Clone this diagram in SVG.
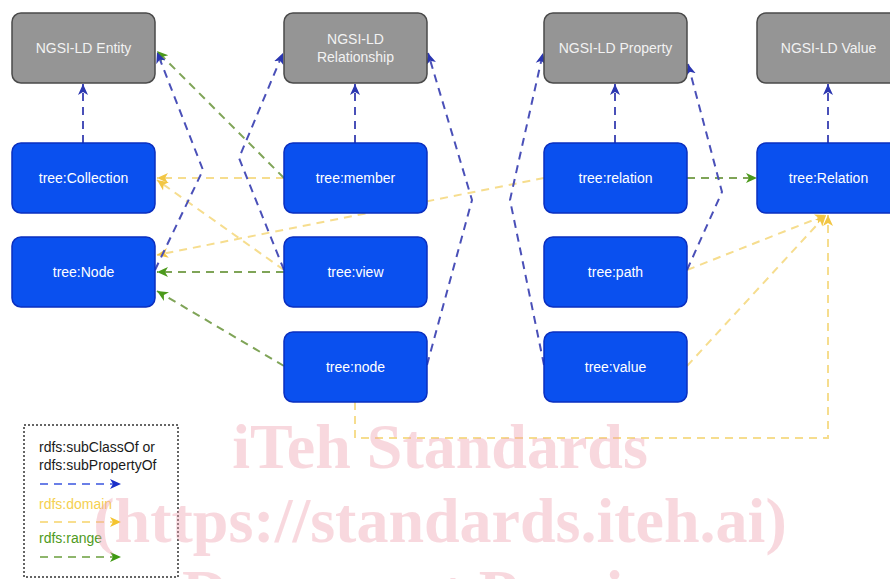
<svg xmlns="http://www.w3.org/2000/svg" width="890" height="579" viewBox="0 0 890 579">
<style>
.gray{fill:#959595;stroke:#4a4a4a;stroke-width:1.5}
.blue{fill:#0a50ef;stroke:#0a2fc0;stroke-width:1.5}
.gt{fill:#f2f2f2;font-family:"Liberation Sans",Arial,sans-serif;font-size:14px;text-anchor:middle;dominant-baseline:central}
.bt{fill:#ffffff;font-family:"Liberation Sans",Arial,sans-serif;font-size:14px;text-anchor:middle;dominant-baseline:central}
.e{fill:none;stroke-width:2;stroke-dasharray:8 6}
.sub{stroke:#4a50b8;marker-end:url(#mb)}
.dom{stroke:#f6dd8e;marker-end:url(#my)}
.rng{stroke:#7fa457;marker-end:url(#mg)}
.lt{font-family:"Liberation Sans",Arial,sans-serif;font-size:14px}
.wm{fill:#f0a0ae;opacity:0.4;font-family:"Liberation Serif","Times New Roman",serif;font-weight:bold;font-size:64px;text-anchor:middle}
</style>
<defs>
<marker id="mb" markerUnits="userSpaceOnUse" markerWidth="12" markerHeight="12" refX="11" refY="6" orient="auto"><path d="M0,1 L11,6 L0,11 L3,6 z" fill="#2b36b0"/></marker>
<marker id="my" markerUnits="userSpaceOnUse" markerWidth="12" markerHeight="12" refX="11" refY="6" orient="auto"><path d="M0,1 L11,6 L0,11 L3,6 z" fill="#f2c644"/></marker>
<marker id="mg" markerUnits="userSpaceOnUse" markerWidth="12" markerHeight="12" refX="11" refY="6" orient="auto"><path d="M0,1 L11,6 L0,11 L3,6 z" fill="#4c9a1c"/></marker>
<marker id="lb" markerUnits="userSpaceOnUse" markerWidth="12" markerHeight="12" refX="11" refY="6" orient="auto"><path d="M0,1 L11,6 L0,11 L3,6 z" fill="#1a2fc8"/></marker>
<marker id="ly" markerUnits="userSpaceOnUse" markerWidth="12" markerHeight="12" refX="11" refY="6" orient="auto"><path d="M0,1 L11,6 L0,11 L3,6 z" fill="#f4c430"/></marker>
<marker id="lg" markerUnits="userSpaceOnUse" markerWidth="12" markerHeight="12" refX="11" refY="6" orient="auto"><path d="M0,1 L11,6 L0,11 L3,6 z" fill="#3f9a12"/></marker>
</defs>
<rect width="890" height="579" fill="#ffffff"/>

<g id="connectors">
<path class="e dom" d="M355,402 L355,438 L828,438 L828,215"/>
<path class="e dom" d="M687,270 L826,215"/>
<path class="e dom" d="M687,366 L826,215"/>
<path class="e dom" d="M284,178 L157,178"/>
<path class="e dom" d="M284,270 L157,180"/>
<path class="e dom" d="M544,178 L157,255"/>
<path class="e rng" d="M284,178 L157,51"/>
<path class="e rng" d="M284,272 L157,272"/>
<path class="e rng" d="M284,366 L157,291"/>
<path class="e rng" d="M687,178 L757,178"/>
<path class="e sub" d="M83,143 L83,84"/>
<path class="e sub" d="M355,143 L355,84"/>
<path class="e sub" d="M615,143 L615,84"/>
<path class="e sub" d="M828,143 L828,84"/>
<path class="e sub" d="M155,270 L203,170 L157,52"/>
<path class="e sub" d="M284,270 L239,158 L283,53"/>
<path class="e sub" d="M427,365 L472,200 L428,53"/>
<path class="e sub" d="M544,365 L510,200 L543,53"/>
<path class="e sub" d="M687,270 L722,192 L688,64"/>
</g>

<g id="n-entity"><rect class="gray" x="12" y="13" width="143" height="70" rx="9"/><text class="gt" x="83.5" y="48">NGSI-LD Entity</text></g>
<g id="n-relationship"><rect class="gray" x="284" y="13" width="143" height="70" rx="9"/><text class="gt" x="355.5" y="39">NGSI-LD</text><text class="gt" x="355.5" y="57">Relationship</text></g>
<g id="n-property"><rect class="gray" x="544" y="13" width="143" height="70" rx="9"/><text class="gt" x="615.5" y="48">NGSI-LD Property</text></g>
<g id="n-value"><rect class="gray" x="757" y="13" width="143" height="70" rx="9"/><text class="gt" x="828.5" y="48">NGSI-LD Value</text></g>

<g id="n-collection"><rect class="blue" x="12" y="143" width="143" height="70" rx="9"/><text class="bt" x="83.5" y="178">tree:Collection</text></g>
<g id="n-Node"><rect class="blue" x="12" y="237" width="143" height="70" rx="9"/><text class="bt" x="83.5" y="272">tree:Node</text></g>
<g id="n-member"><rect class="blue" x="284" y="143" width="143" height="70" rx="9"/><text class="bt" x="355.5" y="178">tree:member</text></g>
<g id="n-view"><rect class="blue" x="284" y="237" width="143" height="70" rx="9"/><text class="bt" x="355.5" y="272">tree:view</text></g>
<g id="n-node"><rect class="blue" x="284" y="332" width="143" height="70" rx="9"/><text class="bt" x="355.5" y="367">tree:node</text></g>
<g id="n-relation"><rect class="blue" x="544" y="143" width="143" height="70" rx="9"/><text class="bt" x="615.5" y="178">tree:relation</text></g>
<g id="n-path"><rect class="blue" x="544" y="237" width="143" height="70" rx="9"/><text class="bt" x="615.5" y="272">tree:path</text></g>
<g id="n-value-prop"><rect class="blue" x="544" y="332" width="143" height="70" rx="9"/><text class="bt" x="615.5" y="367">tree:value</text></g>
<g id="n-Relation"><rect class="blue" x="757" y="143" width="143" height="70" rx="9"/><text class="bt" x="828.5" y="178">tree:Relation</text></g>

<g id="legend">
<rect x="24" y="425" width="154" height="152" fill="none" stroke="#333333" stroke-width="1.5" stroke-dasharray="2 2"/>
<text class="lt" x="39" y="452" fill="#1a1a1a">rdfs:subClassOf or</text>
<text class="lt" x="39" y="470" fill="#1a1a1a">rdfs:subPropertyOf</text>
<path d="M40,484 L121,484" fill="none" stroke="#3a55e0" stroke-width="1.5" stroke-dasharray="8 6" marker-end="url(#lb)"/>
<text class="lt" x="39" y="509" fill="#f5d050">rdfs:domain</text>
<path d="M40,522 L121,522" fill="none" stroke="#f6d36a" stroke-width="1.5" stroke-dasharray="8 6" marker-end="url(#ly)"/>
<text class="lt" x="39" y="543" fill="#4e9a22">rdfs:range</text>
<path d="M40,557 L121,557" fill="none" stroke="#6a9e3c" stroke-width="1.5" stroke-dasharray="8 6" marker-end="url(#lg)"/>
</g>

<g id="watermark">
<text class="wm" x="440" y="468">iTeh Standards</text>
<text class="wm" x="440" y="542">(https://standards.iteh.ai)</text>
<text class="wm" x="440" y="614">Document Preview</text>
</g>
</svg>
